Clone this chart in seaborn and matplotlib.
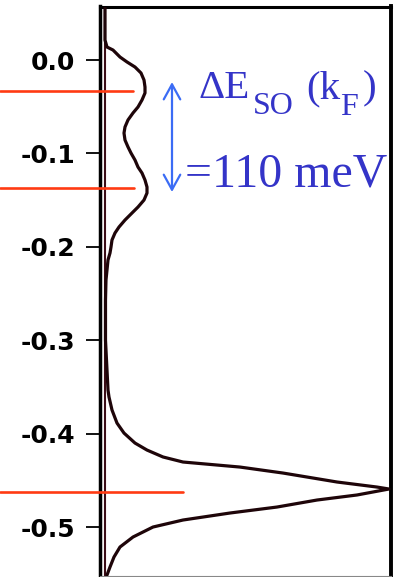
import matplotlib
matplotlib.use("Agg")
import matplotlib.pyplot as plt
from matplotlib.patches import FancyArrowPatch
import seaborn as sns
import pandas as pd

# ---- data ----
energy = [0.0573, 0.0214, 0.0139, 0.0107, 0.0032, -0.0021, -0.0075, -0.0139, -0.0214,
          -0.0289, -0.0353, -0.0428, -0.0503, -0.0567, -0.0642, -0.0717, -0.0782,
          -0.0857, -0.0931, -0.0996, -0.1071, -0.1146, -0.1210, -0.1285, -0.1360,
          -0.1424, -0.1499, -0.1574, -0.1638, -0.1713, -0.1788, -0.1852, -0.1927,
          -0.2002, -0.2066, -0.2141, -0.2248, -0.2355, -0.2570, -0.3000, -0.3533,
          -0.3608, -0.3747, -0.3887, -0.3994, -0.4101, -0.4176, -0.4250, -0.4304,
          -0.4358, -0.4422, -0.4518, -0.4572, -0.4593, -0.4657, -0.4711, -0.4786,
          -0.4850, -0.4925, -0.5000, -0.5107, -0.5214, -0.5321, -0.5428, -0.5514]
intensity = [0, 0, 2, 8, 15, 22, 30, 36, 39,
             40, 40, 37, 33, 28, 23, 20, 19,
             20, 23, 26, 30, 33, 37, 40, 42,
             42, 39, 33, 27, 20, 14, 10, 7,
             6, 5, 3, 2, 1, 0.5, 0.5, 3,
             4, 7, 12, 19, 30, 42, 58, 78,
             135, 178, 232, 272, 284, 252, 212, 172,
             125, 78, 48, 28, 15, 9, 5, 2]

peak_energy = [-0.033, -0.137, -0.463]      # red marker lines
peak_line_end = [28, 29, 78]                # where each red line stops (intensity units)

yticks = [0.0, -0.1, -0.2, -0.3, -0.4, -0.5]
ytick_labels = ["0.0", "-0.1", "-0.2", "-0.3", "-0.4", "-0.5"]

arrow_energy = [-0.0236, -0.1413]
arrow_x = 67

df = pd.DataFrame({"energy": energy, "intensity": intensity})

# ---- figure ----
sns.set_theme(style="white")
W, H = 401, 577
fig = plt.figure(figsize=(W / 100, H / 100), dpi=100)
fig.patch.set_facecolor("white")
ax = fig.add_axes([99.5 / W, 1.5 / H, 291 / W, 569 / H])
ax.set_facecolor("white")

ax.set_xlim(-5.5, 285.5)
ax.set_ylim(-0.5519, 0.0573)

# baseline line at zero intensity
ax.axvline(0, color="#3b0d16", lw=1.5, zorder=2)

sns.lineplot(data=df, x="intensity", y="energy", sort=False, estimator=None,
             color="#1e0509", lw=2.3, ax=ax, zorder=3)

# red peak markers extending to the figure's left edge
x_left = ax.transData.inverted().transform(fig.transFigure.transform((0, 0)))[0]
for e, xe in zip(peak_energy, peak_line_end):
    ax.plot([x_left, xe], [e, e], color="#ff3a12", lw=1.9, clip_on=False, zorder=4)

# blue double arrow
arr = FancyArrowPatch((arrow_x, arrow_energy[0]), (arrow_x, arrow_energy[1]),
                      arrowstyle="<->,head_length=0.6,head_width=0.33",
                      mutation_scale=18, color="#3b6cf5", lw=1.6,
                      shrinkA=0, shrinkB=0, zorder=5)
ax.add_patch(arr)

# annotation text (blue serif)
blue = "#3434c8"
serif = ["Liberation Serif", "DejaVu Serif"]
def ftext(x, y, s, size):
    fig.text(x / W, 1 - y / H, s, fontsize=size, color=blue, family=serif,
             ha="left", va="baseline")

ftext(198, 98, "\u0394E", 29.5)
ftext(253, 114, "SO", 23)
ftext(306, 98, "(k", 29.5)
ftext(340, 115, "F", 23)
ftext(363, 98, ")", 29.5)
ftext(185, 187, "=110 meV", 34.5)

# axes styling
ax.set_xticks([])
ax.set_yticks(yticks)
ax.set_yticklabels(ytick_labels, fontsize=18, fontweight="bold", family="DejaVu Sans")
ax.tick_params(axis="y", direction="out", length=10.2, width=1.3, pad=7.5,
               left=True, colors="black")
ax.set_xlabel("")
ax.set_ylabel("")
ax.spines["left"].set_linewidth(2.5)
ax.spines["top"].set_linewidth(2.2)
ax.spines["right"].set_linewidth(2.8)
ax.spines["bottom"].set_linewidth(0.8)
ax.spines["bottom"].set_color("#888888")
for s in ["left", "top", "right"]:
    ax.spines[s].set_color("black")
if ax.get_legend() is not None:
    ax.get_legend().remove()

fig.savefig("out.png", dpi=100, facecolor="white")
